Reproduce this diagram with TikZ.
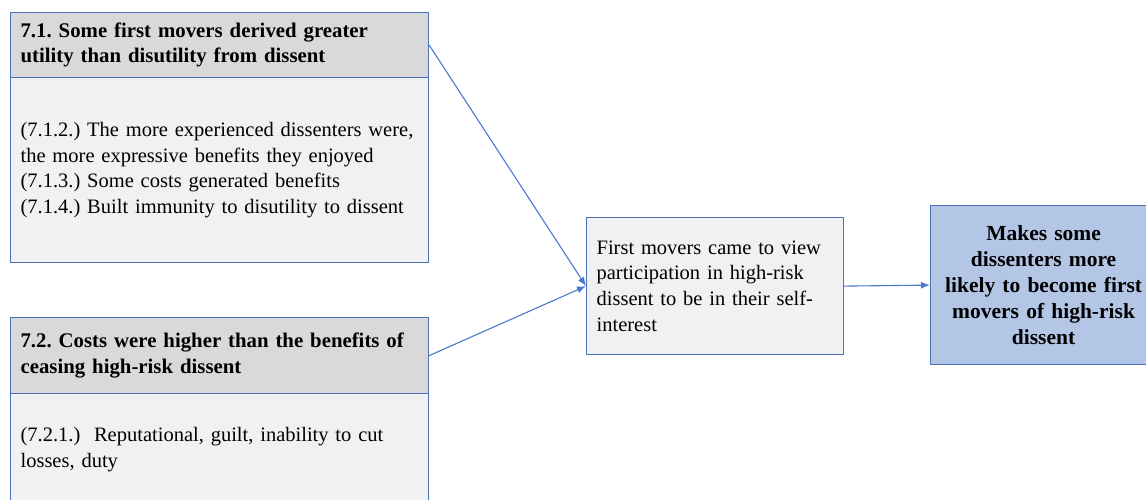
\documentclass[tikz,border=0pt]{standalone}
\usepackage{fontspec}
\setmainfont{Liberation Serif}
\usetikzlibrary{arrows.meta}
\definecolor{edge}{HTML}{4A72B8}
\definecolor{arrowc}{HTML}{4A78CC}
\definecolor{headfill}{HTML}{D9D9D9}
\definecolor{bodyfill}{HTML}{F1F1F1}
\definecolor{resfill}{HTML}{B3C6E6}
\tikzset{
  box/.style={draw=edge, line width=1.2pt, rectangle, inner sep=0pt, anchor=north west},
  headbox/.style={box, fill=headfill, font=\frenchspacing\fontsize{20.8}{25.5}\selectfont\bfseries, align=left},
  bodybox/.style={box, fill=bodyfill, font=\frenchspacing\fontsize{20.5}{25.8}\selectfont, align=left},
  resbox/.style={box, fill=resfill, font=\frenchspacing\fontsize{21.5}{26}\selectfont\bfseries, align=center},
  conn/.style={draw=arrowc, line width=1.1pt, -{Latex[length=9pt,width=7pt]}}
}
\begin{document}
\begin{tikzpicture}[x=1pt,y=-1pt]
\useasboundingbox (0,0) rectangle (1146,499);
\fill[white] (0,0) rectangle (1146,499);
% box 7.1
\node[bodybox, minimum width=418pt, minimum height=185pt, text width=398pt] (b1) at (10,77)
  {(7.1.2.) The more experienced dissenters were,\\the more expressive benefits they enjoyed\\(7.1.3.) Some costs generated benefits\\(7.1.4.) Built immunity to disutility to dissent};
\node[headbox, minimum width=418pt, minimum height=65pt, text width=398pt] (h1) at (10,12)
  {7.1. Some first movers derived greater\\utility than disutility from dissent};
% box 7.2
\node[bodybox, minimum width=418pt, minimum height=112pt, text width=398pt] (b2) at (10,393)
  {(7.2.1.)\ \ Reputational, guilt, inability to cut\\losses, duty};
\node[headbox, minimum width=418pt, minimum height=76pt, text width=398pt] (h2) at (10,317)
  {7.2. Costs were higher than the benefits of\\ceasing high-risk dissent};
% middle
\node[bodybox, minimum width=257pt, minimum height=137pt, text width=237pt] (mid) at (586,217)
  {First movers came to view\\participation in high-risk\\dissent to be in their self-\\interest};
% result
\node[resbox, minimum width=226pt, minimum height=159pt, text width=226pt] (res) at (930,205)
  {Makes some\\dissenters more\\likely to become first\\movers of high-risk\\dissent};
% connectors
\draw[conn] (h1.east) -- (mid.west);
\draw[conn] (h2.east) -- (mid.west);
\draw[conn] (mid.east) -- (res.west);
\end{tikzpicture}
\end{document}
